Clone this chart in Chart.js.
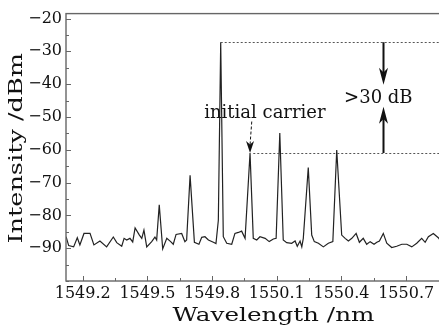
<!DOCTYPE html>
<html>
<head>
<meta charset="utf-8">
<script src="https://cdn.jsdelivr.net/npm/chart.js@4.4.1/dist/chart.umd.min.js"></script>
<style>
  html, body { margin: 0; padding: 0; background: #fff; overflow: hidden; }
  #wrap { width: 482px; height: 333px; }
</style>
</head>
<body>
<div id="wrap"><canvas id="spectrum" width="482" height="333"></canvas></div>
<script>
// spectrum (nm, dBm)
const wavelength = [
  1549.123, 1549.135, 1549.158, 1549.175, 1549.187, 1549.206, 1549.234, 1549.252, 1549.280, 1549.311,
  1549.342, 1549.358, 1549.381, 1549.392, 1549.404, 1549.419, 1549.432, 1549.443, 1549.463, 1549.474,
  1549.484, 1549.497, 1549.520, 1549.535, 1549.543, 1549.555, 1549.571, 1549.590, 1549.608, 1549.620,
  1549.633, 1549.659, 1549.674, 1549.682, 1549.698, 1549.718, 1549.739, 1549.752, 1549.767, 1549.783,
  1549.806, 1549.818, 1549.829, 1549.840, 1549.852, 1549.868, 1549.891, 1549.906, 1549.922, 1549.937,
  1549.953, 1549.976, 1549.991, 1550.007, 1550.022, 1550.046, 1550.065, 1550.084, 1550.097, 1550.114,
  1550.130, 1550.146, 1550.169, 1550.185, 1550.195, 1550.208, 1550.216, 1550.223, 1550.246, 1550.262,
  1550.274, 1550.293, 1550.316, 1550.339, 1550.360, 1550.378, 1550.401, 1550.417, 1550.432, 1550.448,
  1550.468, 1550.483, 1550.501, 1550.517, 1550.533, 1550.551, 1550.564, 1550.576, 1550.594, 1550.610,
  1550.633, 1550.656, 1550.680, 1550.703, 1550.726, 1550.749, 1550.772, 1550.788, 1550.803, 1550.826,
  1550.849, 1550.862
];
const power = [
  -86.5, -89.2, -89.6, -86.8, -89.0, -85.5, -85.5, -89.0, -87.8, -89.6,
  -86.6, -88.3, -89.4, -87.0, -87.5, -87.0, -88.1, -83.8, -86.0, -87.0,
  -84.5, -89.6, -88.0, -86.6, -87.5, -76.8, -90.2, -87.0, -88.0, -88.8,
  -85.8, -85.5, -88.0, -87.5, -67.8, -88.2, -88.8, -86.7, -86.5, -87.5,
  -88.2, -88.6, -81.5, -27.2, -86.5, -88.5, -88.8, -85.5, -85.2, -84.8,
  -87.0, -61.0, -87.0, -87.5, -86.5, -87.0, -88.0, -87.2, -87.0, -54.9,
  -87.5, -88.3, -88.5, -87.8, -89.4, -87.8, -89.6, -87.0, -65.4, -86.0,
  -88.0, -88.5, -89.6, -88.5, -88.0, -60.1, -86.0, -87.0, -87.8, -87.0,
  -85.5, -88.2, -87.0, -88.8, -88.0, -88.8, -88.2, -87.8, -85.5, -88.5,
  -89.8, -89.4, -88.8, -88.8, -89.6, -88.5, -87.0, -88.2, -86.5, -85.5,
  -86.8, -88.0
];
const xTickLabels = ['1549.2', '1549.5', '1549.8', '1550.1', '1550.4', '1550.7'];
const yTickLabels = [-20, -30, -40, -50, -60, -70, -80, -90];
const xTitle = 'Wavelength /nm';
const yTitle = 'Intensity /dBm';

// annotation anchors, in data units
const carrierPeak = [1549.840, -27.2];
const sideLevel = [1549.991, -61.0];
const gapArrowX = 1550.594;
const gapTips = [-40.2, -46.9];
const gapLabel = [1550.571, -45.9];
const carrierLabel = [1550.045, -50.4];
const carrierArrow = [[1549.984, -51.4], [1549.976, -61.0]];

const serif = 'DejaVu Serif';

function arrowHead(ctx, x, y, dir, len, half) {
  ctx.beginPath();
  ctx.moveTo(x, y);
  ctx.lineTo(x - half, y - dir * len);
  ctx.lineTo(x, y - dir * len * 0.72);
  ctx.lineTo(x + half, y - dir * len);
  ctx.closePath();
  ctx.fill();
}

const frameTicks = {
  id: 'frameTicks',
  afterDraw(chart) {
    const { ctx, chartArea: a, scales: { x, y } } = chart;
    ctx.save();
    ctx.strokeStyle = '#666';
    ctx.lineWidth = 1.4;
    ctx.strokeRect(a.left, a.top, a.right - a.left, a.bottom - a.top);
    ctx.lineWidth = 1;
    ctx.beginPath();
    x.ticks.forEach(t => {
      const px = Math.round(x.getPixelForValue(t.value)) + 0.5;
      const len = t.label ? 5 : 3;
      ctx.moveTo(px, a.bottom);
      ctx.lineTo(px, a.bottom - len);
    });
    y.ticks.forEach(t => {
      const py = Math.round(y.getPixelForValue(t.value)) + 0.5;
      const len = t.label ? 5 : 3;
      ctx.moveTo(a.left, py);
      ctx.lineTo(a.left + len, py);
    });
    ctx.stroke();

    // axis titles, set wide like the source figure
    ctx.fillStyle = '#111';
    ctx.font = '18px "' + serif + '"';
    ctx.textAlign = 'center';
    ctx.textBaseline = 'alphabetic';
    ctx.save();
    ctx.translate((a.left + a.right) / 2, a.bottom + 40);
    ctx.scale(1.37, 1);
    ctx.fillText(xTitle, 0, 0);
    ctx.restore();
    ctx.save();
    ctx.translate(a.left - 44.3, (a.top + a.bottom) / 2 + 1);
    ctx.rotate(-Math.PI / 2);
    ctx.scale(1.42, 1);
    ctx.fillText(yTitle, 0, 0);
    ctx.restore();
    ctx.restore();
  }
};

const notes = {
  id: 'notes',
  afterDatasetsDraw(chart) {
    const { ctx, chartArea: a, scales: { x, y } } = chart;
    ctx.save();
    // dotted reference levels
    ctx.strokeStyle = '#555';
    ctx.lineWidth = 1;
    ctx.setLineDash([2, 2]);
    ctx.beginPath();
    ctx.moveTo(x.getPixelForValue(carrierPeak[0]), Math.round(y.getPixelForValue(carrierPeak[1])) + 0.5);
    ctx.lineTo(a.right, Math.round(y.getPixelForValue(carrierPeak[1])) + 0.5);
    ctx.moveTo(x.getPixelForValue(sideLevel[0]), Math.round(y.getPixelForValue(sideLevel[1])) + 0.5);
    ctx.lineTo(a.right, Math.round(y.getPixelForValue(sideLevel[1])) + 0.5);
    ctx.stroke();

    // dashed pointer to the initial carrier
    ctx.strokeStyle = '#111';
    ctx.fillStyle = '#111';
    ctx.setLineDash([3, 2]);
    const p0 = [x.getPixelForValue(carrierArrow[0][0]), y.getPixelForValue(carrierArrow[0][1])];
    const p1 = [x.getPixelForValue(carrierArrow[1][0]), y.getPixelForValue(carrierArrow[1][1])];
    ctx.beginPath();
    ctx.moveTo(p0[0], p0[1]);
    ctx.lineTo(p1[0], p1[1] - 8);
    ctx.stroke();
    ctx.setLineDash([]);
    arrowHead(ctx, p1[0], p1[1], 1, 12, 4);

    // >30 dB double arrow
    const ax = Math.round(x.getPixelForValue(gapArrowX)) + 0.5;
    ctx.lineWidth = 2;
    ctx.beginPath();
    ctx.moveTo(ax, y.getPixelForValue(carrierPeak[1]));
    ctx.lineTo(ax, y.getPixelForValue(gapTips[0]) - 8);
    ctx.moveTo(ax, y.getPixelForValue(sideLevel[1]));
    ctx.lineTo(ax, y.getPixelForValue(gapTips[1]) + 8);
    ctx.stroke();
    arrowHead(ctx, ax, y.getPixelForValue(gapTips[0]), 1, 17, 4.5);
    arrowHead(ctx, ax, y.getPixelForValue(gapTips[1]), -1, 17, 4.5);

    ctx.font = '18px "' + serif + '"';
    ctx.textAlign = 'center';
    ctx.textBaseline = 'alphabetic';
    ctx.fillText('>30 dB', x.getPixelForValue(gapLabel[0]), y.getPixelForValue(gapLabel[1]));
    ctx.fillText('initial carrier', x.getPixelForValue(carrierLabel[0]), y.getPixelForValue(carrierLabel[1]));
    ctx.restore();
  }
};

new Chart(document.getElementById('spectrum'), {
  type: 'line',
  data: {
    datasets: [{
      data: wavelength.map((w, i) => ({ x: w, y: power[i] })),
      borderColor: '#222',
      borderWidth: 1.2,
      pointRadius: 0,
      tension: 0
    }]
  },
  options: {
    responsive: false,
    animation: false,
    events: [],
    layout: { padding: { top: 11, right: 1, left: 0, bottom: 0 } },
    plugins: { legend: { display: false }, tooltip: { enabled: false } },
    scales: {
      x: {
        type: 'linear',
        min: 1549.1226,
        max: 1551.047,
        grid: { display: false, drawTicks: false },
        border: { display: false },
        afterFit: s => { s.height = 52; },
        ticks: {
          stepSize: 0.15,
          includeBounds: false,
          autoSkip: false,
          maxRotation: 0,
          padding: 3,
          color: '#111',
          font: { family: serif, size: 16 },
          callback: v => {
            const s = Number(v).toFixed(1);
            return (Math.round(v * 100) % 30 === 0 && xTickLabels.includes(s)) ? s : '';
          }
        },
        title: { display: false }
      },
      y: {
        min: -100,
        max: -18.5,
        grid: { display: false, drawTicks: false },
        border: { display: false },
        afterFit: s => { s.width = 66; },
        ticks: {
          stepSize: 5,
          includeBounds: false,
          autoSkip: false,
          padding: 4,
          color: '#111',
          font: { family: serif, size: 16 },
          callback: v => yTickLabels.includes(Math.round(v)) ? '\u2212' + Math.abs(Math.round(v)) : ''
        },
        title: { display: false }
      }
    }
  },
  plugins: [notes, frameTicks]
});
</script>
</body>
</html>
